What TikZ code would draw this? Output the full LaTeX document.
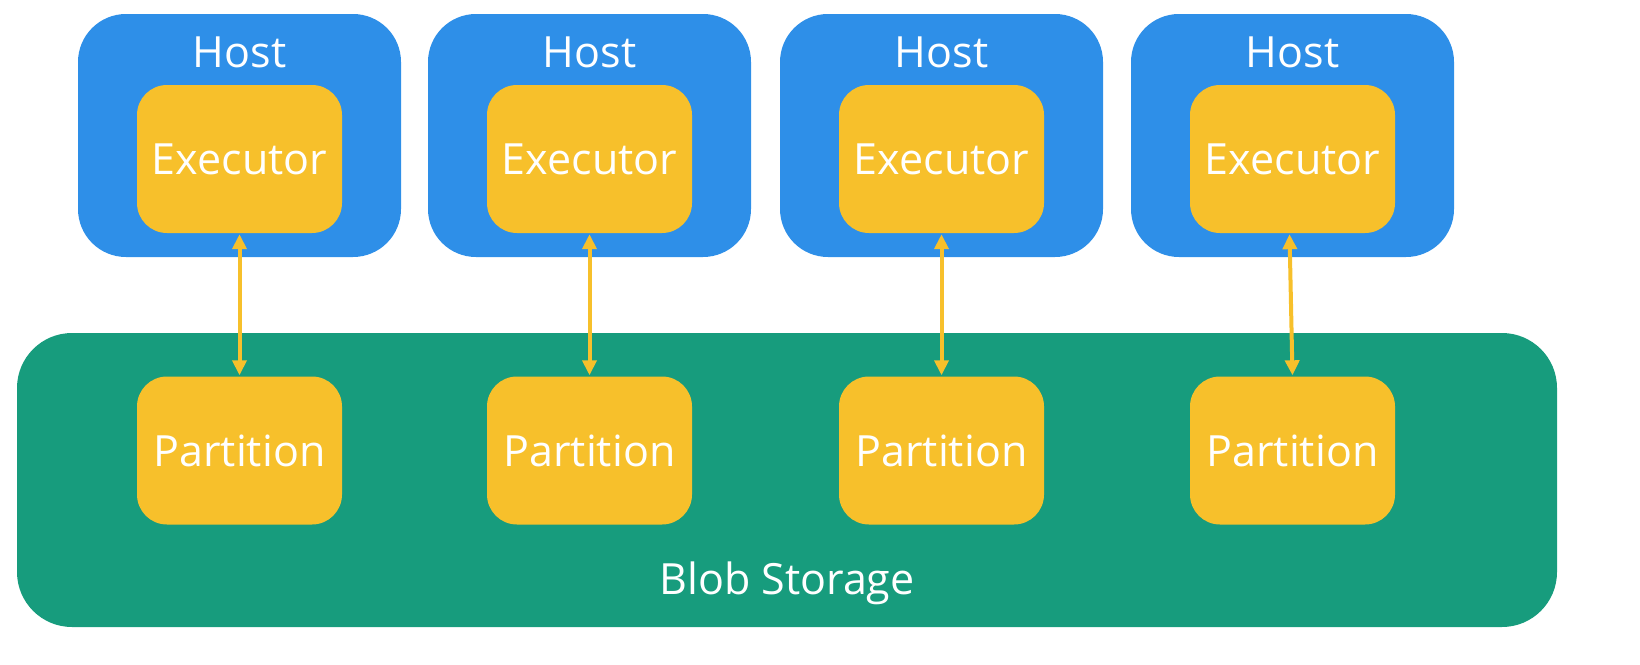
\documentclass[tikz,border=0pt]{standalone}
\usepackage{fontspec}
\setmainfont{Open Sans}
\usetikzlibrary{arrows.meta}
\definecolor{hostblue}{HTML}{2E8FE8}
\definecolor{execyellow}{HTML}{F7C02B}
\definecolor{blobgreen}{HTML}{179C7D}
\tikzset{
  hostbox/.style={draw=none, fill=hostblue, rectangle, rounded corners=48pt, minimum width=323pt, minimum height=243pt, inner sep=0pt},
  innerbox/.style={draw=none, fill=execyellow, rectangle, rounded corners=30pt, minimum width=205pt, minimum height=148pt, inner sep=0pt, text=white, font=\fontsize{43pt}{50pt}\selectfont},
  blobbox/.style={draw=none, fill=blobgreen, rectangle, rounded corners=55pt, minimum width=1540pt, minimum height=294pt, inner sep=0pt},
  lbl/.style={text=white, anchor=base, inner sep=0pt, font=\fontsize{43pt}{50pt}\selectfont},
  link/.style={draw=execyellow, line width=4pt, {Triangle[length=15pt,width=14pt]}-{Triangle[length=15pt,width=14pt]}, shorten <=1pt, shorten >=1pt}
}
\begin{document}
\begin{tikzpicture}[x=1pt,y=-1pt]
\useasboundingbox (0,0) rectangle (1640,664);
% blob storage
\node[blobbox] (blob) at (787,480) {};
\node[lbl] (blobl) at (787,594) {Blob Storage};
% hosts
\foreach \i/\hx/\ex in {1/239.5/239.5, 2/589.5/589.5, 3/941.5/941.5, 4/1292.5/1292.5}{
  \node[hostbox] (h\i) at (\hx,135.5) {};
  \node[lbl] (hl\i) at (\hx,67) {Host};
  \node[innerbox] (e\i) at (\ex,159) {Executor};
  \node[innerbox] (p\i) at (\ex,450.5) {Partition};
}
\draw[link] (e1.south) -- (p1.north);
\draw[link] (e2.south) -- (p2.north);
\draw[link] (e3.south) -- (p3.north);
\draw[link] ([xshift=-3pt]e4.south) -- (p4.north);
\end{tikzpicture}
\end{document}
